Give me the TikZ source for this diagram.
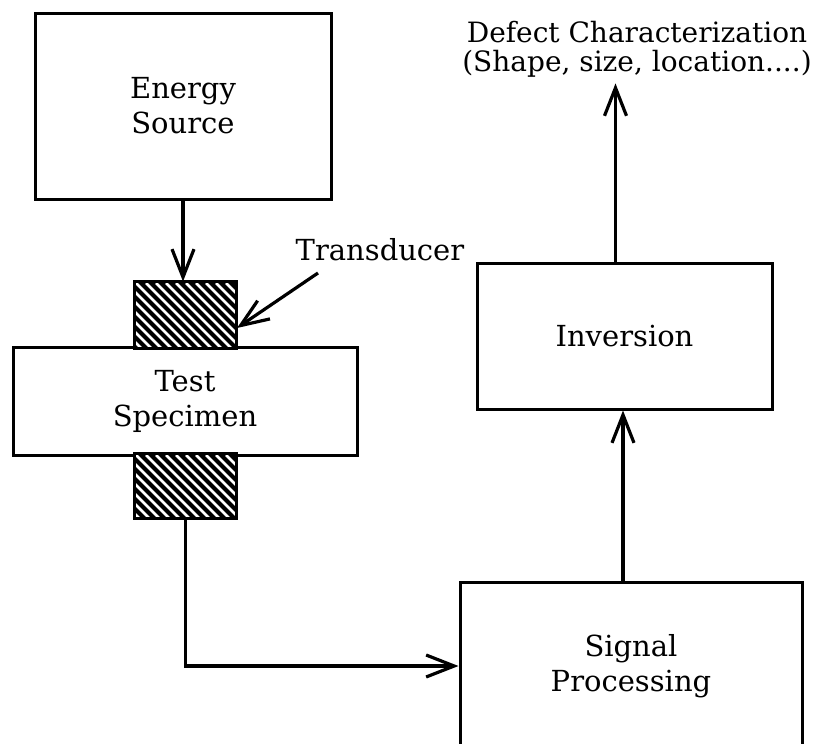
\documentclass[tikz,border=0pt]{standalone}
\usepackage{fontspec}
\setmainfont{DejaVu Serif}
\usepackage{tikz}
\usetikzlibrary{arrows.meta}

\tikzset{
  blok/.style={draw, line width=1.5pt, align=center, inner sep=0pt,
    font=\fontsize{14.5}{17.5}\selectfont},
  tdbox/.style={draw, fill=black, line width=1.5pt, inner sep=0pt,
    minimum width=49.5pt},
  pijl/.style={line width=1.6pt, -{Straight Barb[length=14pt,width=11pt,line width=1.6pt]}}
}

\begin{document}
\begin{tikzpicture}[x=0.5pt,y=-0.5pt]
			\useasboundingbox (0,0) rectangle (832,744);
			\clip (0,0) rectangle (832,744);
			% Khoi
			\node[blok, minimum width=148pt, minimum height=93pt] (energy) at (183,106) {Energy\\Source};
			\node[tdbox, minimum height=32pt] (tdtop) at (185.5,315) {};
			\node[tdbox, minimum height=31pt] (tdbot) at (185.5,486) {};
			\node[blok, minimum width=172pt, minimum height=54pt] (spec) at (185,401) {Test\\Specimen};
			\node[blok, minimum width=147.5pt, minimum height=73pt] (inv) at (624.5,336) {Inversion};
			\node[blok, minimum width=171pt, minimum height=84pt] (sig) at (631,666) {Signal\\Processing};
			\node[align=center, font=\fontsize{14}{14.5}\selectfont, inner sep=3pt] (defect) at (637,49)
				{Defect Characterization\\(Shape, size, location....)};
			\node[font=\fontsize{14.5}{17.5}\selectfont, inner sep=0pt] (trlabel) at (380,250) {Transducer};
			% Gach cheo
			\foreach \t/\y in {tdtop/283, tdbot/455} {
				\begin{scope}
				\clip (\t.south west) rectangle (\t.north east);
				\foreach \s in {56,66,...,236}
				\draw[white, line width=1.3pt] (\s,\y) -- ++(70,70);
				\end{scope}
				\draw[line width=1.5pt] (\t.south west) rectangle (\t.north east);
			}
			% Mui ten
			\coordinate (trtail) at (318,273);
			\coordinate (trtip) at (237,328);
			\draw[pijl] (trtail) -- (trtip);
			\draw[pijl] (energy.south) -- (energy.south |- tdtop.north);
			\draw[pijl] (tdbot.south) |- (sig.west);
			\draw[pijl] ([xshift=-4pt]sig.north) -- ([xshift=-4pt]sig.north |- inv.south);
			\draw[pijl] ([xshift=-4.5pt]inv.north) -- ([xshift=-4.5pt]inv.north |- defect.south);
		\end{tikzpicture}
\end{document}
